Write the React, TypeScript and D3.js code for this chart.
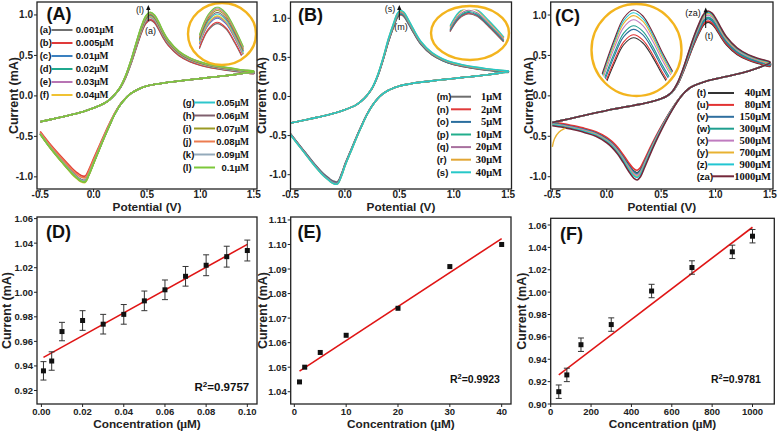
import React from 'react';
import * as d3 from 'd3';

type Pt = [number, number];

// ---------------- Calibration data (D, E, F) ----------------
const concD = [0.001, 0.005, 0.01, 0.02, 0.03, 0.04, 0.05, 0.06, 0.07, 0.08, 0.09, 0.1];
const currentD = [0.936, 0.944, 0.968, 0.977, 0.974, 0.982, 0.993, 1.002, 1.013, 1.022, 1.029, 1.034];
const errorD = [0.0075, 0.0075, 0.0075, 0.008, 0.008, 0.008, 0.008, 0.008, 0.008, 0.0085, 0.0085, 0.0085];
const fitD: Pt[] = [[0.001, 0.947], [0.1, 1.039]];
const ticksDx = [0, 0.02, 0.04, 0.06, 0.08, 0.1];
const ticksDy = [0.92, 0.94, 0.96, 0.98, 1.0, 1.02, 1.04, 1.06];

const concE = [1, 2, 5, 10, 20, 30, 40];
const currentE = [1.044, 1.05, 1.056, 1.063, 1.074, 1.091, 1.1];
const fitE: Pt[] = [[1, 1.0484], [40, 1.1024]];
const ticksEx = [0, 10, 20, 30, 40];
const ticksEy = [1.04, 1.05, 1.06, 1.07, 1.08, 1.09, 1.1, 1.11];

const concF = [40, 80, 150, 300, 500, 700, 900, 1000];
const currentF = [0.911, 0.926, 0.953, 0.971, 1.001, 1.022, 1.036, 1.05];
const errorF = [0.006, 0.006, 0.006, 0.006, 0.006, 0.006, 0.006, 0.006];
const fitF: Pt[] = [[40, 0.926], [1000, 1.058]];
const ticksFx = [0, 200, 400, 600, 800, 1000];
const ticksFy = [0.9, 0.92, 0.94, 0.96, 0.98, 1.0, 1.02, 1.04, 1.06];

// ---------------- CV panel A ----------------
const cvA_anodic: Pt[] = [[-0.5, -0.32], [-0.4, -0.29], [-0.3, -0.26], [-0.2, -0.23], [-0.1, -0.195], [0.0, -0.15], [0.1, -0.09], [0.15, -0.045], [0.2, 0.02], [0.25, 0.11], [0.3, 0.25], [0.35, 0.44], [0.4, 0.66], [0.45, 0.87], [0.49, 0.99], [0.53, 1.034], [0.57, 1.0], [0.61, 0.91], [0.65, 0.8], [0.7, 0.69], [0.8, 0.55], [0.9, 0.47], [1.0, 0.42], [1.1, 0.385], [1.2, 0.36], [1.3, 0.34], [1.4, 0.32], [1.5, 0.305]];
const cvA_cathodic: Pt[] = [[1.5, 0.3], [1.4, 0.28], [1.3, 0.26], [1.2, 0.245], [1.1, 0.23], [1.0, 0.215], [0.9, 0.2], [0.8, 0.185], [0.7, 0.168], [0.6, 0.148], [0.5, 0.122], [0.45, 0.1], [0.4, 0.07], [0.35, 0.03], [0.3, -0.03], [0.25, -0.11], [0.2, -0.22], [0.15, -0.36], [0.1, -0.51], [0.05, -0.67], [0.0, -0.83], [-0.04, -0.96], [-0.08, -1.06], [-0.12, -1.05], [-0.16, -1.01], [-0.2, -0.96], [-0.3, -0.81], [-0.4, -0.65], [-0.5, -0.47]];
const labelsA = ['(a)', '(b)', '(c)', '(d)', '(e)', '(f)', '(g)', '(h)', '(i)', '(j)', '(k)', '(l)'];
const concLabelsA = ['0.001', '0.005', '0.01', '0.02', '0.03', '0.04', '0.05', '0.06', '0.07', '0.08', '0.09', '0.1'];
const colorsA = ['#707070', '#e03a3a', '#3a80c0', '#1fa88e', '#b874b4', '#f0c232', '#2ec6cc', '#80606e', '#9a9a24', '#ec7c50', '#94aabb', '#7cc83a'];
const peaksA = currentD;
const valleysA = [-1.04, -0.99, -1.05, -1.06, -1.05, -1.07, -1.06, -1.05, -1.06, -1.01, -1.05, -1.06];

// ---------------- CV panel B ----------------
const cvB_anodic: Pt[] = [[-0.5, -0.34], [-0.4, -0.31], [-0.3, -0.28], [-0.2, -0.25], [-0.1, -0.215], [0.0, -0.17], [0.1, -0.11], [0.15, -0.06], [0.2, 0.01], [0.25, 0.11], [0.3, 0.27], [0.35, 0.49], [0.4, 0.74], [0.45, 0.95], [0.48, 1.06], [0.51, 1.1], [0.54, 1.08], [0.58, 0.99], [0.63, 0.86], [0.7, 0.7], [0.8, 0.56], [0.9, 0.48], [1.0, 0.43], [1.1, 0.4], [1.2, 0.375], [1.3, 0.355], [1.4, 0.34], [1.5, 0.325]];
const cvB_cathodic: Pt[] = [[1.5, 0.32], [1.4, 0.295], [1.3, 0.275], [1.2, 0.26], [1.1, 0.245], [1.0, 0.23], [0.9, 0.215], [0.8, 0.2], [0.7, 0.183], [0.6, 0.162], [0.5, 0.135], [0.45, 0.11], [0.4, 0.08], [0.35, 0.035], [0.3, -0.03], [0.25, -0.12], [0.2, -0.24], [0.15, -0.39], [0.1, -0.55], [0.05, -0.72], [0.0, -0.89], [-0.03, -1.01], [-0.07, -1.12], [-0.11, -1.11], [-0.15, -1.07], [-0.2, -1.01], [-0.3, -0.85], [-0.4, -0.67], [-0.5, -0.49]];
const labelsB = ['(m)', '(n)', '(o)', '(p)', '(q)', '(r)', '(s)'];
const concLabelsB = ['1', '2', '5', '10', '20', '30', '40'];
const colorsB = ['#6e6e6e', '#e03a3a', '#2a6e9e', '#22ae8c', '#a8709e', '#e2a634', '#26c8c8'];
const peaksB = currentE;
const valleysB = [-1.09, -1.1, -1.1, -1.11, -1.11, -1.12, -1.12];

// ---------------- CV panel C ----------------
const cvC_anodic: Pt[] = [[-0.5, -0.33], [-0.4, -0.3], [-0.3, -0.27], [-0.2, -0.24], [-0.1, -0.21], [0.0, -0.18], [0.1, -0.155], [0.2, -0.13], [0.3, -0.105], [0.4, -0.075], [0.5, -0.035], [0.55, -0.005], [0.6, 0.05], [0.65, 0.16], [0.7, 0.33], [0.75, 0.53], [0.8, 0.73], [0.85, 0.9], [0.89, 1.01], [0.93, 1.05], [0.97, 1.02], [1.01, 0.94], [1.05, 0.84], [1.1, 0.73], [1.2, 0.59], [1.3, 0.51], [1.4, 0.46], [1.5, 0.42]];
const cvC_cathodic: Pt[] = [[1.5, 0.41], [1.4, 0.35], [1.3, 0.305], [1.2, 0.27], [1.1, 0.24], [1.0, 0.21], [0.9, 0.175], [0.8, 0.125], [0.75, 0.085], [0.7, 0.02], [0.65, -0.07], [0.6, -0.18], [0.55, -0.3], [0.5, -0.43], [0.45, -0.57], [0.4, -0.72], [0.35, -0.88], [0.31, -1.0], [0.28, -1.04], [0.25, -1.02], [0.2, -0.93], [0.15, -0.82], [0.1, -0.72], [0.05, -0.64], [0.0, -0.58], [-0.1, -0.5], [-0.2, -0.455], [-0.3, -0.42], [-0.4, -0.39], [-0.5, -0.37]];
const tailC_y: Pt[] = [[-0.38, -0.4], [-0.44, -0.45], [-0.48, -0.53], [-0.5, -0.63]];
const labelsC = ['(t)', '(u)', '(v)', '(w)', '(x)', '(y)', '(z)', '(za)'];
const concLabelsC = ['40', '80', '150', '300', '500', '700', '900', '1000'];
const colorsC = ['#333333', '#e23232', '#2f6f9f', '#1f9f8f', '#c07cc0', '#e8b232', '#22c6d2', '#74283a'];
const peaksC = currentF;
const valleysC = [-0.95, -0.92, -0.96, -0.97, -0.98, -1.0, -1.01, -1.04];

const ticksCVx = [-0.5, 0, 0.5, 1.0, 1.5];
const ticksCVy = [-1.0, -0.5, 0, 0.5, 1.0];

const SANS = "'Liberation Sans', Arial, Helvetica, sans-serif";
const SERIF = "'Liberation Serif', 'Times New Roman', serif";
const GOLD = '#f3b41e';

type Frame = { x0: number; x1: number; y0: number; y1: number };

function Axes({ f, x, y, xTicks, yTicks, xDec, yDec, xTitle, yTitleX, xTitleY, tickLabelY, tickSize }: any) {
  return (
    <g>
      <rect x={f.x0} y={f.y0} width={f.x1 - f.x0} height={f.y1 - f.y0} fill="none" stroke="#222" strokeWidth={1.3} />
      {xTicks.map((t: number) => (
        <g key={'x' + t}>
          <line x1={x(t)} x2={x(t)} y1={f.y1} y2={f.y1 + 3} stroke="#222" strokeWidth={1} />
          <text x={x(t)} y={tickLabelY} textAnchor="middle" fontFamily={SANS} fontWeight="bold" fontSize={tickSize} fill="#222">{t.toFixed(xDec)}</text>
        </g>
      ))}
      {yTicks.map((t: number) => (
        <g key={'y' + t}>
          <line x1={f.x0 - 3} x2={f.x0} y1={y(t)} y2={y(t)} stroke="#222" strokeWidth={1} />
          <text x={f.x0 - 4} y={y(t) + 3.5} textAnchor="end" fontFamily={SANS} fontWeight="bold" fontSize={tickSize} fill="#222">{t.toFixed(yDec)}</text>
        </g>
      ))}
      <text x={(f.x0 + f.x1) / 2} y={xTitleY} textAnchor="middle" fontFamily={SANS} fontWeight="bold" fontSize={11.8} fill="#222">{xTitle}</text>
      <text transform={`translate(${yTitleX},${(f.y0 + f.y1) / 2}) rotate(-90)`} textAnchor="middle" fontFamily={SANS} fontWeight="bold" fontSize={12.5} fill="#222">Current (mA)</text>
    </g>
  );
}

function buildSeries(anodic: Pt[], cathodic: Pt[], peaks: number[], valleys: number[]) {
  const basePeak = d3.max(anodic, (d) => d[1]) as number;
  const baseValley = d3.min(cathodic, (d) => d[1]) as number;
  return peaks.map((p, i) => {
    const fa = p / basePeak;
    const fc = valleys[i] / baseValley;
    const an: Pt[] = anodic.map(([v, c]) => [v, c > 0 ? c * fa : c]);
    const ca: Pt[] = cathodic.map(([v, c]) => [v, c < 0 ? c * fc : c]);
    return { an, ca };
  });
}

function CVPanel(props: any) {
  const { id, f, xDom, yDom, anodic, cathodic, peaks, valleys, colors, labels, concLabels, inset, legend, panelLabel, arrow, yTitleX, extra } = props;
  const x = d3.scaleLinear().domain(xDom).range([f.x0, f.x1]);
  const y = d3.scaleLinear().domain(yDom).range([f.y1, f.y0]);
  const series = buildSeries(anodic, cathodic, peaks, valleys);
  const line = d3.line<Pt>().x((d) => x(d[0])).y((d) => y(d[1])).curve(d3.curveCatmullRom.alpha(0.5));

  const ix = d3.scaleLinear().domain([inset.vPeak, inset.vPeak + 1]).range([inset.ax, inset.ax + inset.kx]);
  const iy = d3.scaleLinear().domain([inset.iPeak, inset.iPeak - 1]).range([inset.ay, inset.ay + inset.ky]);
  const iline = d3.line<Pt>().x((d) => ix(d[0])).y((d) => iy(d[1])).curve(d3.curveCatmullRom.alpha(0.5));

  return (
    <g>
      <defs>
        <clipPath id={id + 'frame'}>
          <rect x={f.x0} y={f.y0} width={f.x1 - f.x0} height={f.y1 - f.y0} />
        </clipPath>
        <clipPath id={id + 'inset'}>
          <ellipse cx={inset.cx} cy={inset.cy} rx={inset.rx - 3} ry={inset.ry - 3} />
        </clipPath>
      </defs>
      <g clipPath={`url(#${id}frame)`}>
        {series.map((s, i) => (
          <path key={i} d={line(s.an.concat(s.ca)) as string} fill="none" stroke={colors[i]} strokeWidth={1.6} />
        ))}
        {extra && <path d={line(extra.pts) as string} fill="none" stroke={colors[extra.idx]} strokeWidth={1.4} />}
      </g>
      {/* inset */}
      <ellipse cx={inset.cx} cy={inset.cy} rx={inset.rx} ry={inset.ry} fill="none" stroke={GOLD} strokeWidth={2.4} />
      <g clipPath={`url(#${id}inset)`}>
        {series.map((s, i) => (
          <path key={i} d={iline(s.an.filter((d) => d[0] >= inset.vMin && d[0] <= inset.vMax)) as string} fill="none" stroke={colors[i]} strokeWidth={1.1} />
        ))}
      </g>
      {/* arrow */}
      <line x1={arrow.x} x2={arrow.x} y1={arrow.y1} y2={arrow.y0 + 3} stroke="#111" strokeWidth={1} />
      <path d={`M${arrow.x - 2.2},${arrow.y0 + 5} L${arrow.x},${arrow.y0} L${arrow.x + 2.2},${arrow.y0 + 5} Z`} fill="#111" />
      <text x={arrow.topX} y={arrow.topY} textAnchor="middle" fontFamily={SANS} fontSize={9} fill="#111">{arrow.topLabel}</text>
      <text x={arrow.botX} y={arrow.botY} textAnchor="middle" fontFamily={SANS} fontSize={9} fill="#111">{arrow.botLabel}</text>
      {/* legend */}
      {legend.map((blk: any, bi: number) => (
        <g key={bi}>
          {blk.idx.map((si: number, k: number) => {
            const yy = blk.y + k * blk.dy;
            return (
              <g key={si}>
                <text x={blk.lx} y={yy + 3.3} fontFamily={SANS} fontWeight="bold" fontSize={9.5} fill="#111">{labels[si]}</text>
                <line x1={blk.l0 + (blk.lshift && si === blk.lshift.idx ? blk.lshift.d : 0)} x2={blk.l1} y1={yy} y2={yy} stroke={colors[si]} strokeWidth={2} />
                <text x={blk.vx} y={yy + 3.3} textAnchor={blk.anchor} fontFamily={blk.serif ? SERIF : SANS} fontWeight="bold" fontSize={blk.serif ? 10.5 : 9.5} fill="#111">
                  {concLabels[si]}
                  <tspan fontFamily={SERIF}>μM</tspan>
                </text>
              </g>
            );
          })}
        </g>
      ))}
      <text x={panelLabel.x} y={panelLabel.y} fontFamily={SANS} fontWeight="bold" fontSize={18} fill="#111">{panelLabel.t}</text>
      <Axes f={f} x={x} y={y} xTicks={ticksCVx} yTicks={ticksCVy} xDec={1} yDec={1} xTitle="Potential (V)" yTitleX={yTitleX} xTitleY={211} tickLabelY={198} tickSize={10} />
    </g>
  );
}

function ScatterPanel(props: any) {
  const { f, xDom, yDom, xs, ys, errs, fit, xTicks, yTicks, xDec, panelLabel, r2, yTitleX } = props;
  const x = d3.scaleLinear().domain(xDom).range([f.x0, f.x1]);
  const y = d3.scaleLinear().domain(yDom).range([f.y1, f.y0]);
  const fl = d3.line<Pt>().x((d) => x(d[0])).y((d) => y(d[1]));
  return (
    <g>
      <path d={fl(fit) as string} stroke="#e01515" strokeWidth={1.6} fill="none" />
      {errs && xs.map((c: number, i: number) => (
        <g key={'e' + i} stroke="#333" strokeWidth={1}>
          <line x1={x(c)} x2={x(c)} y1={y(ys[i] - errs[i])} y2={y(ys[i] + errs[i])} />
          <line x1={x(c) - 3} x2={x(c) + 3} y1={y(ys[i] - errs[i])} y2={y(ys[i] - errs[i])} />
          <line x1={x(c) - 3} x2={x(c) + 3} y1={y(ys[i] + errs[i])} y2={y(ys[i] + errs[i])} />
        </g>
      ))}
      {xs.map((c: number, i: number) => (
        <rect key={'p' + i} x={x(c) - 2.5} y={y(ys[i]) - 2.5} width={5} height={5} fill="#111" />
      ))}
      <text x={panelLabel.x} y={panelLabel.y} fontFamily={SANS} fontWeight="bold" fontSize={18} fill="#111">{panelLabel.t}</text>
      <text x={r2.x} y={r2.y} fontFamily={SANS} fontWeight="bold" fontSize={r2.size} fill="#111">
        R<tspan fontSize={r2.size * 0.7} dy={-4}>2</tspan><tspan dy={4}>{r2.t}</tspan>
      </text>
      <Axes f={f} x={x} y={y} xTicks={xTicks} yTicks={yTicks} xDec={xDec} yDec={2} xTitle={<>Concentration (<tspan fontFamily={SERIF}>μ</tspan>M)</>} yTitleX={yTitleX} xTitleY={428} tickLabelY={415} tickSize={9.5} />
    </g>
  );
}

export default function App() {
  const fA: Frame = { x0: 37, x1: 257, y0: 2, y1: 189 };
  const fB: Frame = { x0: 290.5, x1: 511.5, y0: 2, y1: 189 };
  const fC: Frame = { x0: 550.7, x1: 773, y0: 2, y1: 189 };
  const fD: Frame = { x0: 37, x1: 257, y0: 217, y1: 404 };
  const fE: Frame = { x0: 290.7, x1: 511, y0: 217, y1: 404 };
  const fF: Frame = { x0: 550.7, x1: 774.3, y0: 218.3, y1: 404 };

  return (
    <svg width={780} height={432} viewBox="0 0 780 432" style={{ position: 'absolute', left: 0, top: 0, background: '#fff' }}>
      <rect width={780} height={432} fill="#fff" />
      <CVPanel
        id="A" f={fA} xDom={[-0.53, 1.53]} yDom={[-1.15, 1.16]}
        anodic={cvA_anodic} cathodic={cvA_cathodic} peaks={peaksA} valleys={valleysA}
        colors={colorsA} labels={labelsA} concLabels={concLabelsA}
        inset={{ cx: 222, cy: 34, rx: 34, ry: 31, ax: 217, ay: 7, vPeak: 0.53, iPeak: 1.034, kx: 220, ky: 170, vMin: 0.44, vMax: 0.66 }}
        legend={[
          { idx: [0, 1, 2, 3, 4, 5], y: 30, dy: 13, lx: 39.7, l0: 51.5, l1: 72.5, vx: 75.7, anchor: 'start', serif: false },
          { idx: [6, 7, 8, 9, 10, 11], y: 102.5, dy: 13, lx: 182.7, l0: 194, l1: 215, vx: 249, anchor: 'end', serif: false },
        ]}
        panelLabel={{ t: '(A)', x: 46.5, y: 19.5 }}
        arrow={{ x: 148.3, y0: 5, y1: 21, topLabel: '(l)', topX: 140, topY: 12.5, botLabel: '(a)', botX: 150.5, botY: 34 }}
        yTitleX={17.5}
      />
      <CVPanel
        id="B" f={fB} xDom={[-0.5, 1.53]} yDom={[-1.183, 1.208]}
        anodic={cvB_anodic} cathodic={cvB_cathodic} peaks={peaksB} valleys={valleysB}
        colors={colorsB} labels={labelsB} concLabels={concLabelsB}
        inset={{ cx: 470, cy: 33, rx: 39, ry: 27, ax: 468, ay: 7, vPeak: 0.51, iPeak: 1.1, kx: 300, ky: 125, vMin: 0.41, vMax: 0.64 }}
        legend={[
          { idx: [0, 1, 2, 3, 4, 5, 6], y: 96.7, dy: 12.6, lx: 436.7, l0: 451, l1: 471, vx: 502, anchor: 'end', serif: true },
        ]}
        panelLabel={{ t: '(B)', x: 298, y: 20.5 }}
        arrow={{ x: 399.3, y0: 5, y1: 20, topLabel: '(s)', topX: 390, topY: 11.5, botLabel: '(m)', botX: 401, botY: 30 }}
        yTitleX={266}
      />
      <CVPanel
        id="C" f={fC} xDom={[-0.515, 1.528]} yDom={[-1.152, 1.161]}
        anodic={cvC_anodic} cathodic={cvC_cathodic} peaks={peaksC} valleys={valleysC}
        colors={colorsC} labels={labelsC} concLabels={concLabelsC}
        inset={{ cx: 636.5, cy: 50, rx: 45, ry: 46, ax: 633.3, ay: 10, vPeak: 0.93, iPeak: 1.05, kx: 240, ky: 200, vMin: 0.79, vMax: 1.1 }}
        legend={[
          { idx: [0, 1, 2, 3, 4, 5, 6, 7], y: 93, dy: 11.9, lx: 696.7, l0: 708, l1: 734, vx: 771, anchor: 'end', serif: true, lshift: { idx: 7, d: 4 } },
        ]}
        panelLabel={{ t: '(C)', x: 555, y: 22 }}
        arrow={{ x: 705.7, y0: 7.5, y1: 28, topLabel: '(za)', topX: 693, topY: 16, botLabel: '(t)', botX: 709, botY: 39 }}
        yTitleX={533}
        extra={{ pts: tailC_y, idx: 5 }}
      />
      <ScatterPanel
        f={fD} xDom={[-0.00214, 0.1047]} yDom={[0.909, 1.0613]}
        xs={concD} ys={currentD} errs={errorD} fit={fitD} xTicks={ticksDx} yTicks={ticksDy} xDec={2}
        panelLabel={{ t: '(D)', x: 46, y: 238 }} r2={{ t: '=0.9757', x: 194.5, y: 391, size: 11.5 }} yTitleX={11}
      />
      <ScatterPanel
        f={fE} xDom={[-0.7, 41.8]} yDom={[1.035, 1.1112]}
        xs={concE} ys={currentE} errs={null} fit={fitE} xTicks={ticksEx} yTicks={ticksEy} xDec={0}
        panelLabel={{ t: '(E)', x: 297.5, y: 238 }} r2={{ t: '=0.9923', x: 450, y: 383, size: 10.5 }} yTitleX={266.5}
      />
      <ScatterPanel
        f={fF} xDom={[0, 1108]} yDom={[0.9, 1.066]}
        xs={concF} ys={currentF} errs={errorF} fit={fitF} xTicks={ticksFx} yTicks={ticksFy} xDec={0}
        panelLabel={{ t: '(F)', x: 560, y: 240 }} r2={{ t: '=0.9781', x: 711, y: 383, size: 10.5 }} yTitleX={526}
      />
    </svg>
  );
}
